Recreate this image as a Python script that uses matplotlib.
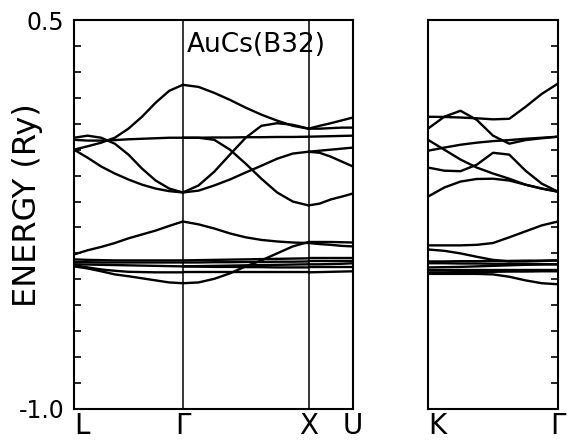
import numpy as np
import matplotlib
matplotlib.use("Agg")
import matplotlib.pyplot as plt
from matplotlib.transforms import blended_transform_factory

# ---------------- data (energies in Ry) ----------------
# high-symmetry path positions (units of 2*pi/a)
k_left = {"L": 0.0, "Γ": 0.866, "X": 1.866, "U": 2.220}
k_right = {"K": 0.0, "Γ": 1.06}
labels_left = ["L", "Γ", "X", "U"]
labels_right = ["K", "Γ"]

# fractional sample positions along each segment
frac9 = [0.0, 0.125, 0.25, 0.375, 0.5, 0.625, 0.75, 0.875, 1.0]
frac5 = [0.0, 0.25, 0.5, 0.75, 1.0]

# L -> Gamma
bands_LG = [
    [0.000, 0.013, 0.027, 0.046, 0.081, 0.127, 0.181, 0.227, 0.250],
    [0.000, -0.031, -0.065, -0.092, -0.115, -0.135, -0.150, -0.160, -0.165],
    [0.046, 0.054, 0.046, 0.023, -0.019, -0.073, -0.119, -0.150, -0.165],
    [0.038, 0.035, 0.035, 0.037, 0.040, 0.042, 0.044, 0.046, 0.046],
    [-0.404, -0.388, -0.375, -0.360, -0.342, -0.327, -0.312, -0.294, -0.277],
    [-0.450, -0.458, -0.469, -0.481, -0.488, -0.496, -0.504, -0.512, -0.515],
    [-0.423, -0.425, -0.426, -0.427, -0.427, -0.427, -0.427, -0.427, -0.427],
    [-0.433, -0.434, -0.435, -0.435, -0.435, -0.435, -0.435, -0.435, -0.435],
    [-0.442, -0.443, -0.444, -0.445, -0.446, -0.447, -0.448, -0.449, -0.450],
    [-0.446, -0.454, -0.462, -0.467, -0.471, -0.472, -0.473, -0.473, -0.473],
]

# Gamma -> X
bands_GX = [
    [0.250, 0.242, 0.219, 0.192, 0.162, 0.135, 0.112, 0.092, 0.081],
    [-0.165, -0.138, -0.085, -0.019, 0.046, 0.092, 0.102, 0.096, 0.081],
    [-0.165, -0.158, -0.138, -0.115, -0.088, -0.062, -0.035, -0.015, -0.008],
    [0.046, 0.046, 0.038, 0.000, -0.054, -0.112, -0.165, -0.200, -0.215],
    [0.046, 0.046, 0.047, 0.047, 0.048, 0.048, 0.049, 0.049, 0.050],
    [-0.277, -0.288, -0.304, -0.323, -0.338, -0.348, -0.354, -0.358, -0.360],
    [-0.515, -0.512, -0.498, -0.477, -0.450, -0.427, -0.400, -0.373, -0.356],
    [-0.427, -0.426, -0.425, -0.424, -0.423, -0.422, -0.421, -0.420, -0.419],
    [-0.435, -0.435, -0.434, -0.434, -0.433, -0.433, -0.432, -0.432, -0.431],
    [-0.450, -0.449, -0.448, -0.447, -0.446, -0.445, -0.444, -0.443, -0.442],
    [-0.450, -0.451, -0.452, -0.452, -0.453, -0.453, -0.454, -0.454, -0.454],
    [-0.473, -0.473, -0.473, -0.473, -0.473, -0.473, -0.473, -0.473, -0.473],
]

# X -> U
bands_XU = [
    [0.081, 0.092, 0.102, 0.113, 0.124],
    [0.081, 0.081, 0.083, 0.085, 0.085],
    [0.050, 0.051, 0.052, 0.053, 0.054],
    [-0.008, -0.004, 0.000, 0.004, 0.008],
    [-0.008, -0.012, -0.027, -0.046, -0.065],
    [-0.215, -0.208, -0.192, -0.181, -0.169],
    [-0.356, -0.356, -0.356, -0.357, -0.358],
    [-0.360, -0.364, -0.367, -0.371, -0.373],
    [-0.419, -0.419, -0.419, -0.419, -0.419],
    [-0.431, -0.431, -0.431, -0.431, -0.431],
    [-0.442, -0.442, -0.441, -0.440, -0.438],
    [-0.454, -0.454, -0.454, -0.454, -0.454],
    [-0.473, -0.472, -0.471, -0.470, -0.469],
]

# K -> Gamma
bands_KG = [
    [0.127, 0.126, 0.124, 0.121, 0.117, 0.119, 0.165, 0.215, 0.255],
    [0.081, 0.127, 0.150, 0.115, 0.054, 0.023, 0.037, 0.044, 0.050],
    [-0.004, 0.008, 0.019, 0.027, 0.033, 0.037, 0.042, 0.046, 0.050],
    [0.038, 0.000, -0.038, -0.069, -0.092, -0.112, -0.135, -0.150, -0.162],
    [-0.069, -0.081, -0.083, -0.058, -0.012, -0.019, -0.081, -0.131, -0.162],
    [-0.181, -0.146, -0.123, -0.113, -0.112, -0.119, -0.135, -0.150, -0.162],
    [-0.369, -0.369, -0.369, -0.367, -0.360, -0.338, -0.315, -0.292, -0.277],
    [-0.385, -0.390, -0.400, -0.413, -0.425, -0.431, -0.431, -0.429, -0.427],
    [-0.431, -0.431, -0.430, -0.430, -0.429, -0.429, -0.428, -0.428, -0.427],
    [-0.438, -0.438, -0.439, -0.439, -0.440, -0.440, -0.441, -0.441, -0.442],
    [-0.454, -0.453, -0.452, -0.450, -0.448, -0.446, -0.444, -0.443, -0.442],
    [-0.465, -0.465, -0.465, -0.465, -0.465, -0.465, -0.465, -0.465, -0.465],
    [-0.473, -0.473, -0.472, -0.472, -0.471, -0.470, -0.470, -0.469, -0.469],
    [-0.479, -0.479, -0.479, -0.479, -0.481, -0.490, -0.504, -0.515, -0.519],
]

title_text = "AuCs(B32)"
ylabel_text = "ENERGY (Ry)"
y_min, y_max = -1.0, 0.5

# ---------------- figure ----------------
W, H = 572, 442
fig = plt.figure(figsize=(W / 100, H / 100), dpi=100)
fig.patch.set_facecolor("white")


def rect(x0, x1, y0, y1):
    return [x0 / W, 1 - y1 / H, (x1 - x0) / W, (y1 - y0) / H]


axL = fig.add_axes(rect(74, 353, 20, 409))
axR = fig.add_axes(rect(428, 558, 20, 409))

LW = 1.7


def draw_segment(ax, k0, k1, fracs, bands):
    ks = [k0 + f * (k1 - k0) for f in fracs]
    for b in bands:
        ax.plot(ks, b, color="black", lw=LW, solid_joinstyle="round",
                solid_capstyle="round")


draw_segment(axL, k_left["L"], k_left["Γ"], frac9, bands_LG)
draw_segment(axL, k_left["Γ"], k_left["X"], frac9, bands_GX)
draw_segment(axL, k_left["X"], k_left["U"], frac5, bands_XU)
draw_segment(axR, k_right["K"], k_right["Γ"], frac9, bands_KG)

for kk in (k_left["Γ"], k_left["X"]):
    axL.axvline(kk, color="black", lw=1.1)

axL.set_xlim(k_left["L"], k_left["U"])
axR.set_xlim(k_right["K"], k_right["Γ"])
yt = np.round(np.arange(y_min, y_max + 0.001, 0.1), 1)
for ax in (axL, axR):
    ax.set_ylim(y_min, y_max)
    ax.set_xticks([])
    for s in ax.spines.values():
        s.set_linewidth(1.5)
    ax.set_yticks(yt)

ylabels = ["-1.0" if abs(v + 1.0) < 1e-6 else ("0.5" if abs(v - 0.5) < 1e-6 else "") for v in yt]
axL.set_yticklabels(ylabels)
axL.tick_params(axis="y", direction="in", length=5, width=1.2, left=True, right=False,
                labelsize=17, pad=7)
axR.yaxis.tick_right()
axR.tick_params(axis="y", direction="in", length=5, width=1.2, left=False, right=True,
                labelright=False, labelleft=False)

axL.text(0.405, 0.936, title_text, transform=axL.transAxes, fontsize=19,
         ha="left", va="center")

fig.text(28 / W, 1 - 205 / H, ylabel_text, rotation=90, fontsize=23,
         ha="center", va="center")

ylab = 1 - 434 / H
trL = blended_transform_factory(axL.transData, fig.transFigure)
trR = blended_transform_factory(axR.transData, fig.transFigure)
for name in labels_left:
    ha = "left" if name == "L" else "center"
    axL.text(k_left[name], ylab, name, transform=trL, fontsize=20, ha=ha,
             va="baseline")
for name in labels_right:
    ha = "left" if name == "K" else "center"
    axR.text(k_right[name], ylab, name, transform=trR, fontsize=20, ha=ha,
             va="baseline")

fig.savefig("out.png", dpi=100)
